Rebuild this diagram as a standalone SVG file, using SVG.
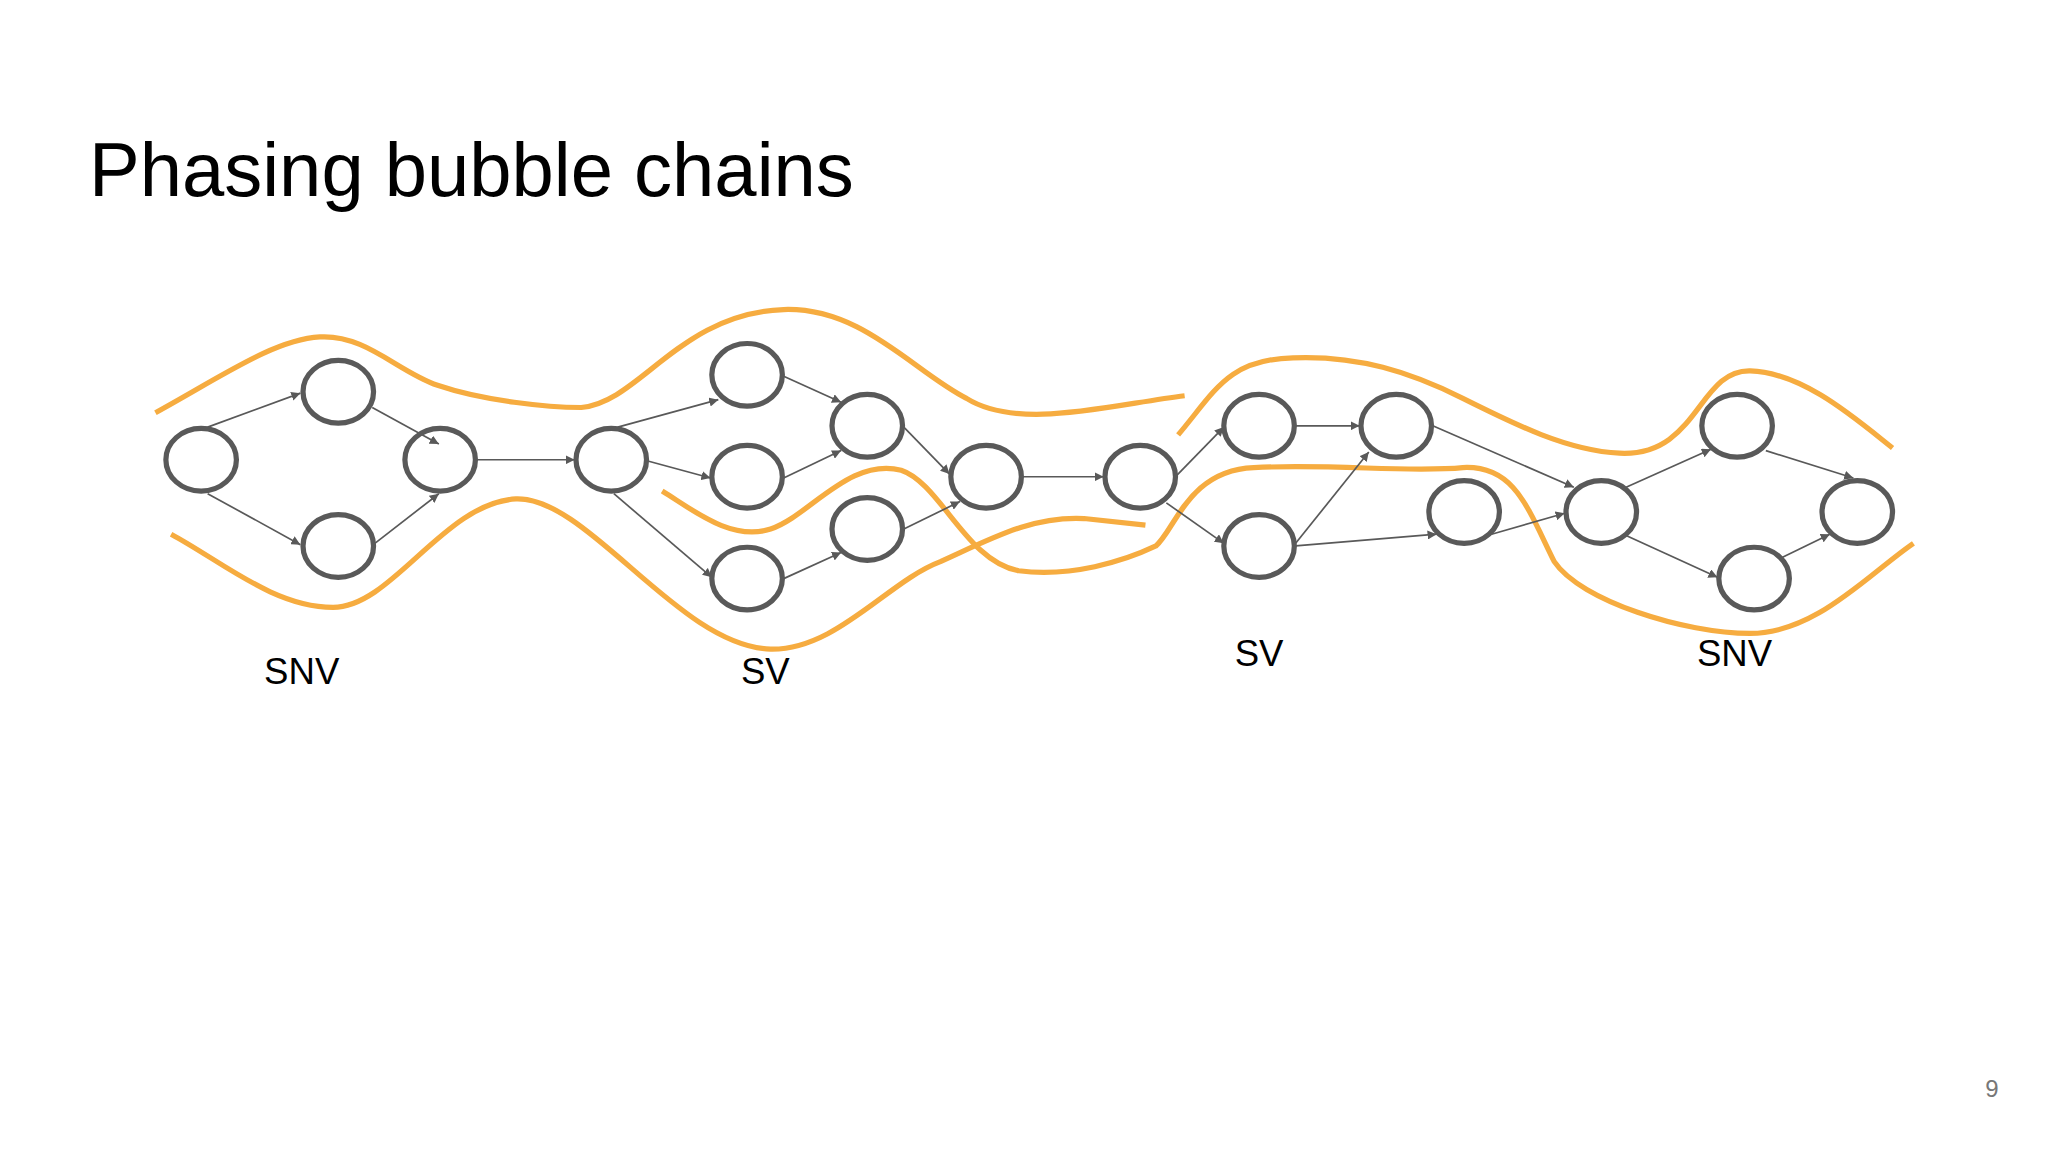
<svg xmlns="http://www.w3.org/2000/svg" width="2048" height="1152" viewBox="0 0 2048 1152">
<style>
.n{fill:none;stroke:#595959;stroke-width:4}
.e{stroke:#595959;stroke-width:1.3;fill:none;marker-end:url(#a)}
.o{fill:none;stroke:#F6AC40;stroke-width:4;stroke-linecap:butt}
.t{font-family:"Liberation Sans",Arial,sans-serif;fill:#000}
</style>
<defs><marker id="a" viewBox="0 0 10 10" refX="10" refY="5" markerWidth="7" markerHeight="7" markerUnits="userSpaceOnUse" orient="auto"><path d="M0,0L10,5L0,10z" fill="#595959"/></marker></defs>
<rect width="2048" height="1152" fill="#fff"/>
<text class="t" x="89" y="196" font-size="76">Phasing bubble chains</text>
<text x="1992" y="1097" font-size="24" font-family="Liberation Sans,Arial,sans-serif" fill="#777" text-anchor="middle">9</text>
<g transform="scale(1.3061)">
<g id="haplotypes">
<path class="o" d="M119,316 C170,288 210,260 245,258 C280,256 305,285 335,295 C370,307 420,312 445,312 C490,308 520,240 600,237 C660,235 700,285 740,305 C780,330 850,310 907,303"/>
<path class="o" d="M131,409 C170,430 210,465 255,465 C300,465 340,385 395,382 C450,380 520,495 590,497 C640,498 680,445 720,430 C760,412 790,395 830,397 L877,402"/>
<path class="o" d="M507,376 C530,390 560,415 590,405 C620,395 650,350 690,360 C720,370 740,430 780,437 C820,442 860,430 885,418 C900,405 910,360 960,358 C1020,355 1080,362 1120,358 C1160,356 1170,390 1190,430 C1210,460 1290,485 1340,485 C1390,485 1430,440 1465,416"/>
<path class="o" d="M902,333 C930,300 940,275 990,274 C1040,272 1080,285 1120,305 C1160,325 1200,345 1240,347 C1300,350 1300,283 1340,284 C1380,285 1420,320 1449,343"/>
</g>
<g id="connectors">
<line class="e" x1="159" y1="327" x2="230" y2="301"/>
<line class="e" x1="159" y1="378" x2="230" y2="417"/>
<line class="e" x1="285" y1="312" x2="336" y2="340"/>
<line class="e" x1="287" y1="416" x2="336" y2="378"/>
<line class="e" x1="365" y1="352" x2="440" y2="352"/>
<line class="e" x1="473" y1="327" x2="550" y2="306"/>
<line class="e" x1="496" y1="353" x2="544" y2="366"/>
<line class="e" x1="470" y1="378" x2="545" y2="442"/>
<line class="e" x1="600" y1="288" x2="644" y2="308"/>
<line class="e" x1="600" y1="366" x2="644" y2="345"/>
<line class="e" x1="600" y1="443" x2="644" y2="423"/>
<line class="e" x1="692" y1="327" x2="727" y2="363"/>
<line class="e" x1="692" y1="405" x2="735" y2="384"/>
<line class="e" x1="783" y1="365" x2="845" y2="365"/>
<line class="e" x1="901" y1="364" x2="937" y2="327"/>
<line class="e" x1="893" y1="385" x2="937" y2="416"/>
<line class="e" x1="992" y1="326" x2="1041" y2="326"/>
<line class="e" x1="992" y1="416" x2="1048" y2="346"/>
<line class="e" x1="992" y1="418" x2="1100" y2="409"/>
<line class="e" x1="1097" y1="326" x2="1205" y2="373"/>
<line class="e" x1="1142" y1="409" x2="1198" y2="393"/>
<line class="e" x1="1245" y1="373" x2="1310" y2="344"/>
<line class="e" x1="1245" y1="410" x2="1315" y2="442"/>
<line class="e" x1="1352" y1="345" x2="1419" y2="366"/>
<line class="e" x1="1364" y1="427" x2="1401" y2="409"/>
</g>
<g id="n1"><ellipse class="n" cx="154" cy="352" rx="27" ry="24"/></g>
<g id="n2"><ellipse class="n" cx="259" cy="300" rx="27" ry="24"/></g>
<g id="n3"><ellipse class="n" cx="259" cy="418" rx="27" ry="24"/></g>
<g id="n4"><ellipse class="n" cx="337" cy="352" rx="27" ry="24"/></g>
<g id="n5"><ellipse class="n" cx="468" cy="352" rx="27" ry="24"/></g>
<g id="n6"><ellipse class="n" cx="572" cy="287" rx="27" ry="24"/></g>
<g id="n7"><ellipse class="n" cx="572" cy="365" rx="27" ry="24"/></g>
<g id="n8"><ellipse class="n" cx="572" cy="443" rx="27" ry="24"/></g>
<g id="n9"><ellipse class="n" cx="664" cy="326" rx="27" ry="24"/></g>
<g id="n10"><ellipse class="n" cx="664" cy="405" rx="27" ry="24"/></g>
<g id="n11"><ellipse class="n" cx="755" cy="365" rx="27" ry="24"/></g>
<g id="n12"><ellipse class="n" cx="873" cy="365" rx="27" ry="24"/></g>
<g id="n13"><ellipse class="n" cx="964" cy="326" rx="27" ry="24"/></g>
<g id="n14"><ellipse class="n" cx="964" cy="418" rx="27" ry="24"/></g>
<g id="n15"><ellipse class="n" cx="1069" cy="326" rx="27" ry="24"/></g>
<g id="n16"><ellipse class="n" cx="1121" cy="392" rx="27" ry="24"/></g>
<g id="n17"><ellipse class="n" cx="1226" cy="392" rx="27" ry="24"/></g>
<g id="n18"><ellipse class="n" cx="1330" cy="326" rx="27" ry="24"/></g>
<g id="n19"><ellipse class="n" cx="1343" cy="443" rx="27" ry="24"/></g>
<g id="n20"><ellipse class="n" cx="1422" cy="392" rx="27" ry="24"/></g>
<g class="t" font-size="28" text-anchor="middle">
<text x="231" y="524">SNV</text>
<text x="586" y="524">SV</text>
<text x="964" y="510">SV</text>
<text x="1328" y="510">SNV</text>
</g>
</g>
</svg>
